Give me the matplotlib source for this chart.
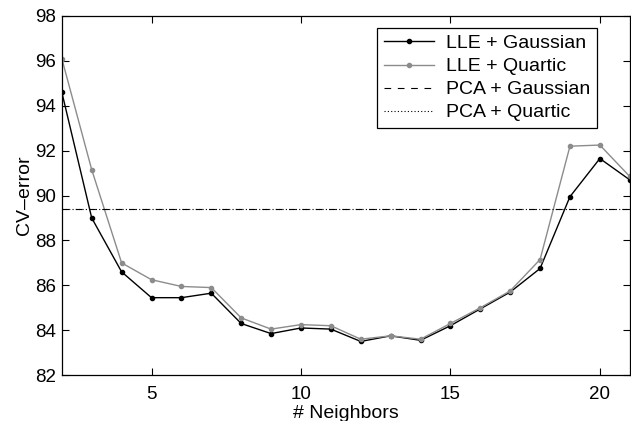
import matplotlib
matplotlib.use('Agg')
import matplotlib.pyplot as plt

plt.rcParams['font.family'] = ['Liberation Sans', 'DejaVu Sans']

# Data
neighbors = list(range(2, 22))
lle_gauss = [94.6, 89.0, 86.6, 85.45, 85.45, 85.65, 84.3, 83.85, 84.1, 84.05,
             83.5, 83.75, 83.55, 84.2, 84.95, 85.7, 86.75, 89.95, 91.65, 90.7]
lle_quartic = [96.1, 91.15, 87.0, 86.25, 85.95, 85.9, 84.55, 84.05, 84.25, 84.2,
               83.6, 83.75, 83.6, 84.3, 85.0, 85.75, 87.15, 92.2, 92.25, 90.85]
pca_gauss = 89.4
pca_quartic = 89.4

fig = plt.figure(figsize=(6.31, 4.21), dpi=100)
ax = fig.add_axes([0.098, 0.109, 0.9, 0.853])

ax.plot(neighbors, lle_gauss, color='black', lw=1.0, marker='o', ms=3,
        label='LLE + Gaussian')
ax.plot(neighbors, lle_quartic, color='#8c8c8c', lw=1.0, marker='o', ms=3,
        label='LLE + Quartic')
ax.axhline(pca_gauss, color='black', lw=0.8, ls=(0, (6, 6)), label='PCA + Gaussian')
ax.axhline(pca_quartic, color='black', lw=0.8, ls=(3, (1, 2)), label='PCA + Quartic')

ax.set_xlim(2, 21)
ax.set_ylim(82, 98)
ax.set_xticks([5, 10, 15, 20])
ax.set_yticks(range(82, 99, 2))
ax.tick_params(direction='in', top=True, right=True, labelsize=13.5, length=5,
               width=0.8, pad=4)
ax.tick_params(axis='x', pad=8)
for s in ax.spines.values():
    s.set_linewidth(0.9)

ax.set_xlabel('# Neighbors', fontsize=14, labelpad=1.5)
ax.set_ylabel('CV\u2013error', fontsize=14, labelpad=2)

leg = ax.legend(loc='upper right', bbox_to_anchor=(0.942, 0.967), fontsize=14,
                fancybox=False, edgecolor='black', framealpha=1,
                handlelength=2.6, borderpad=0.35, labelspacing=0.28,
                handletextpad=0.6, borderaxespad=0)
leg.get_frame().set_linewidth(0.9)

fig.savefig('out.png', dpi=100)
